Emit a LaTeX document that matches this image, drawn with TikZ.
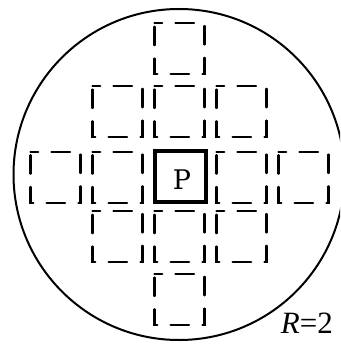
\documentclass[tikz,border=0pt]{standalone}
\usepackage{fontspec}
\setmainfont{Liberation Serif}
\newfontfamily\pfont{DejaVu Serif}
\begin{document}
\begin{tikzpicture}[x=1pt,y=-1pt]
\tikzset{
  cell/.style={minimum width=50pt, minimum height=51pt, inner sep=0pt, outer sep=0pt},
  dbox/.style={line width=2.3pt, line cap=round, dash pattern=on 18.5pt off 13.3pt, dash phase=10.8pt},
  pbox/.style={draw, line width=3.8pt, minimum width=51.6pt, minimum height=50.7pt, inner sep=0pt},
  lbl/.style={inner sep=0pt, font=\fontsize{31}{31}\selectfont}
}
\useasboundingbox (0,0) rectangle (340,344);
\begin{scope}
  \clip (0,0) rectangle (340,344);
  \draw[line width=2pt] (179,174.5) circle[radius=165.5];
\end{scope}
\foreach \n/\x/\y in {c13/179.5/48.7,
  c22/117.5/111.5, c23/179.5/111.5, c24/241.5/111.5,
  c31/55.5/177.2, c32/117.5/177.2, c34/241.5/177.2, c35/303.5/177.2,
  c42/117.5/236.7, c43/179.5/236.7, c44/241.5/236.7,
  c53/179.5/299.5}{
  \node[cell] (\n) at (\x,\y) {};
  \draw[dbox] (\n.north west) -- (\n.north east) -- (\n.south east) -- (\n.south west) -- cycle;
}
\node[pbox] (P) at (180.5,176.7) {};
\node[inner sep=0pt, font=\fontsize{27}{27}\pfont] (Ptext) at (182,179.5) {P};
\node[lbl, anchor=base east] (R) at (333,333) {\textit{R}=2};
\end{tikzpicture}
\end{document}
